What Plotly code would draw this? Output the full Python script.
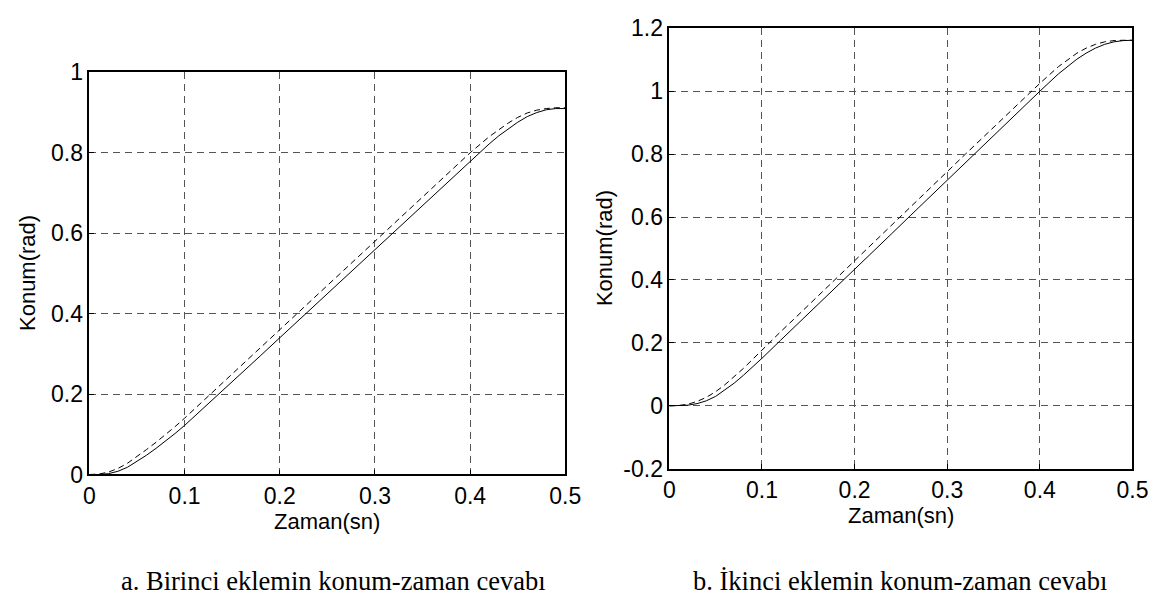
import plotly.graph_objects as go

# ---------------- data ----------------
t_left = [0.0, 0.01, 0.02, 0.03, 0.04, 0.05, 0.06, 0.07, 0.08, 0.09, 0.10, 0.12, 0.14, 0.16, 0.18,
          0.20, 0.22, 0.24, 0.26, 0.28, 0.30, 0.32, 0.34, 0.36, 0.38, 0.40, 0.42, 0.43, 0.44,
          0.45, 0.46, 0.47, 0.48, 0.49, 0.50]
left_solid = [0.0, 0.0, 0.002, 0.008, 0.018, 0.032, 0.048, 0.065, 0.083, 0.102, 0.122, 0.165, 0.208,
              0.252, 0.296, 0.340, 0.384, 0.428, 0.472, 0.516, 0.560, 0.604, 0.648, 0.692, 0.736,
              0.780, 0.822, 0.842, 0.860, 0.876, 0.890, 0.900, 0.907, 0.910, 0.910]
left_dashed = [0.0, 0.001, 0.006, 0.015, 0.028, 0.044, 0.062, 0.080, 0.099, 0.119, 0.140, 0.184, 0.228,
               0.272, 0.316, 0.360, 0.404, 0.448, 0.492, 0.536, 0.580, 0.624, 0.668, 0.712, 0.756,
               0.800, 0.840, 0.858, 0.874, 0.888, 0.899, 0.906, 0.910, 0.912, 0.912]

t_right = [0.0, 0.01, 0.02, 0.03, 0.04, 0.05, 0.06, 0.07, 0.08, 0.09, 0.10, 0.12, 0.14, 0.16, 0.18,
           0.20, 0.22, 0.24, 0.26, 0.28, 0.30, 0.32, 0.34, 0.36, 0.38, 0.40, 0.42, 0.43, 0.44,
           0.45, 0.46, 0.47, 0.48, 0.49, 0.50]
right_solid = [0.0, 0.0, 0.002, 0.007, 0.016, 0.030, 0.050, 0.072, 0.097, 0.123, 0.151, 0.208, 0.264,
               0.321, 0.378, 0.434, 0.491, 0.547, 0.604, 0.661, 0.717, 0.774, 0.830, 0.887, 0.944,
               1.000, 1.055, 1.080, 1.102, 1.121, 1.137, 1.149, 1.157, 1.161, 1.162]
right_dashed = [0.0, 0.001, 0.005, 0.014, 0.027, 0.045, 0.067, 0.092, 0.119, 0.148, 0.178, 0.235, 0.291,
                0.348, 0.405, 0.461, 0.518, 0.574, 0.631, 0.688, 0.744, 0.801, 0.857, 0.914, 0.970,
                1.025, 1.078, 1.101, 1.121, 1.137, 1.149, 1.157, 1.161, 1.162, 1.162]

x_ticks = [0, 0.1, 0.2, 0.3, 0.4, 0.5]
x_tick_text = ["0", "0.1", "0.2", "0.3", "0.4", "0.5"]
yl_ticks = [0, 0.2, 0.4, 0.6, 0.8, 1.0]
yl_tick_text = ["0", "0.2", "0.4", "0.6", "0.8", "1"]
yr_ticks = [-0.2, 0, 0.2, 0.4, 0.6, 0.8, 1.0, 1.2]
yr_tick_text = ["-0.2", "0", "0.2", "0.4", "0.6", "0.8", "1", "1.2"]

x_title = "Zaman(sn)"
y_title = "Konum(rad)"
caption_a = "a. Birinci eklemin konum-zaman cevabı"
caption_b = "b. İkinci eklemin konum-zaman cevabı"

# ---------------- figure ----------------
W, H = 1173, 611
fig = go.Figure()

line_solid = dict(color="black", width=1)
line_dash = dict(color="black", width=1, dash="6px,4px")

fig.add_trace(go.Scatter(x=t_left, y=left_dashed, mode="lines", line=line_dash, xaxis="x", yaxis="y"))
fig.add_trace(go.Scatter(x=t_left, y=left_solid, mode="lines", line=line_solid, xaxis="x", yaxis="y"))
fig.add_trace(go.Scatter(x=t_right, y=right_dashed, mode="lines", line=line_dash, xaxis="x2", yaxis="y2"))
fig.add_trace(go.Scatter(x=t_right, y=right_solid, mode="lines", line=line_solid, xaxis="x2", yaxis="y2"))

sans = "Liberation Sans, Arial, Helvetica, sans-serif"
tick_font = dict(family=sans, size=23, color="black")
title_font = dict(family=sans, size=22, color="black")


def px_x(p):
    return p / W


def px_y(p):
    return 1 - p / H


common_axis = dict(
    showline=True, linecolor="black", linewidth=1.5, mirror=True,
    showgrid=True, gridcolor="#555555", griddash="7px,5px", gridwidth=1,
    zeroline=False, ticks="inside", ticklen=5, tickcolor="black",
    tickfont=tick_font,
)

# plot boxes in pixels
L_x0, L_x1, L_y0, L_y1 = 85, 570, 62, 482
R_x0, R_x1, R_y0, R_y1 = 676, 1148, 16, 476

fig.update_layout(
    width=W, height=H,
    margin=dict(l=0, r=0, t=0, b=0),
    paper_bgcolor="white", plot_bgcolor="white",
    showlegend=False,
    xaxis=dict(common_axis, domain=[px_x(L_x0), px_x(L_x1)], range=[0, 0.5], anchor="y",
               tickvals=x_ticks, ticktext=x_tick_text),
    yaxis=dict(common_axis, domain=[px_y(L_y1), px_y(L_y0)], range=[0, 1.0], anchor="x",
               tickvals=yl_ticks, ticktext=yl_tick_text),
    xaxis2=dict(common_axis, domain=[px_x(R_x0), px_x(R_x1)], range=[0, 0.5], anchor="y2",
                tickvals=x_ticks, ticktext=x_tick_text),
    yaxis2=dict(common_axis, domain=[px_y(R_y1), px_y(R_y0)], range=[-0.2, 1.2], anchor="x2",
                tickvals=yr_ticks, ticktext=yr_tick_text),
)

# axis titles
fig.add_annotation(text=x_title, x=px_x((L_x0 + L_x1) / 2), y=px_y(531), xref="paper", yref="paper",
                   showarrow=False, font=title_font, xanchor="center", yanchor="middle")
fig.add_annotation(text=x_title, x=px_x((R_x0 + R_x1) / 2), y=px_y(525), xref="paper", yref="paper",
                   showarrow=False, font=title_font, xanchor="center", yanchor="middle")
fig.add_annotation(text=y_title, x=px_x(22), y=px_y((L_y0 + L_y1) / 2), xref="paper", yref="paper",
                   showarrow=False, font=title_font, textangle=-90, xanchor="center", yanchor="middle")
fig.add_annotation(text=y_title, x=px_x(610), y=px_y((R_y0 + R_y1) / 2), xref="paper", yref="paper",
                   showarrow=False, font=title_font, textangle=-90, xanchor="center", yanchor="middle")

# captions
cap_font = dict(family="Liberation Serif, Times New Roman, serif", size=26.5, color="black")
fig.add_annotation(text=caption_a, x=px_x(334), y=px_y(593), xref="paper", yref="paper",
                   showarrow=False, font=cap_font, xanchor="center", yanchor="middle")
fig.add_annotation(text=caption_b, x=px_x(911), y=px_y(593), xref="paper", yref="paper",
                   showarrow=False, font=cap_font, xanchor="center", yanchor="middle")

fig.write_html("out.html")
